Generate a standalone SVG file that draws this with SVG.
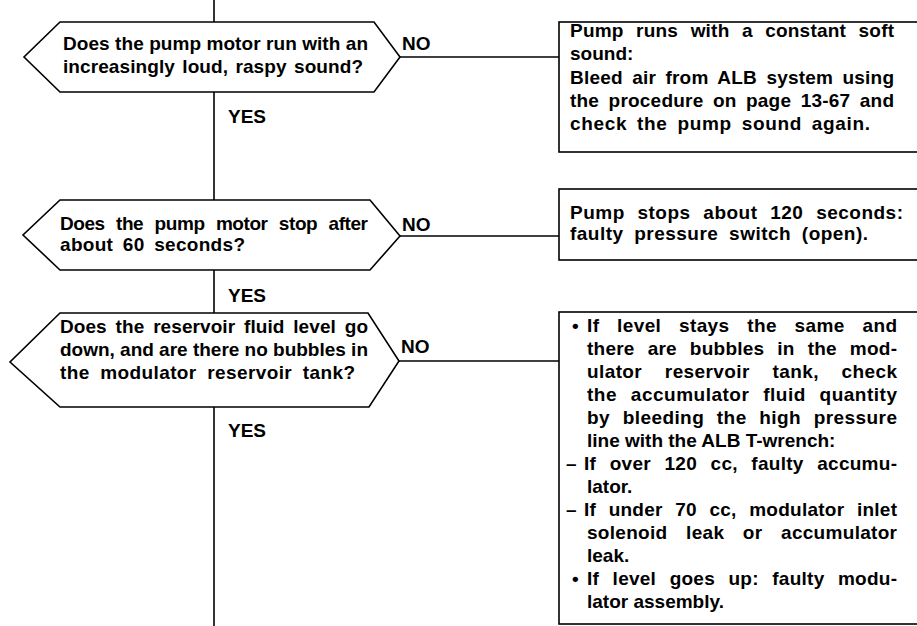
<svg xmlns="http://www.w3.org/2000/svg" width="917" height="626" viewBox="0 0 917 626">
<style>
.s{fill:none;stroke:#000;stroke-width:1.6}
.t{font-family:"Liberation Sans",Arial,sans-serif;font-weight:bold;font-size:19px;fill:#000}
</style>
<rect width="917" height="626" fill="#fff"/>
<g id="connectors" class="s">
<line x1="214" y1="0" x2="214" y2="22"/>
<line x1="214" y1="92" x2="214" y2="200"/>
<line x1="214" y1="270" x2="214" y2="313"/>
<line x1="214" y1="407" x2="214" y2="626"/>
<line x1="400" y1="57" x2="559" y2="57"/>
<line x1="400" y1="236" x2="559" y2="236"/>
<line x1="399" y1="361" x2="559" y2="361"/>
</g>
<g id="labels" class="t">
<text x="402" y="50">NO</text>
<text x="228" y="123">YES</text>
<text x="402" y="231">NO</text>
<text x="228" y="302">YES</text>
<text x="401" y="353">NO</text>
<text x="228" y="437">YES</text>
</g>
<g id="q1">
<polygon class="s" points="60,22 374,22 400,57 374,92 60,92 24,57"/>
<text class="t" x="63" y="50" textLength="305" lengthAdjust="spacing">Does the pump motor run with an</text>
<text class="t" x="63" y="73" word-spacing="2" textLength="300" lengthAdjust="spacing">increasingly loud, raspy sound?</text>
</g>
<g id="r1">
<rect class="s" x="559" y="22" width="362" height="130"/>
<text class="t" x="570" y="37" word-spacing="7" textLength="324" lengthAdjust="spacing">Pump runs with a constant soft</text>
<text class="t" x="570" y="60">sound:</text>
<text class="t" x="570" y="84" word-spacing="4" textLength="324" lengthAdjust="spacing">Bleed air from ALB system using</text>
<text class="t" x="570" y="107" word-spacing="4" textLength="324" lengthAdjust="spacing">the procedure on page 13-67 and</text>
<text class="t" x="570" y="130" word-spacing="4" textLength="300" lengthAdjust="spacing">check the pump sound again.</text>
</g>
<g id="q2">
<polygon class="s" points="60,200 370,200 400,236 370,270 60,270 23,235"/>
<text class="t" x="60" y="230" word-spacing="6.5" textLength="308" lengthAdjust="spacing">Does the pump motor stop after</text>
<text class="t" x="60" y="251" word-spacing="4" textLength="185" lengthAdjust="spacing">about 60 seconds?</text>
</g>
<g id="r2">
<rect class="s" x="559" y="189" width="362" height="71"/>
<text class="t" x="570" y="219" word-spacing="7" textLength="333" lengthAdjust="spacing">Pump stops about 120 seconds:</text>
<text class="t" x="570" y="240" word-spacing="5" textLength="298" lengthAdjust="spacing">faulty pressure switch (open).</text>
</g>
<g id="q3">
<polygon class="s" points="60,313 368,313 399,361 369,407 60,407 10,362"/>
<text class="t" x="60" y="333" word-spacing="3.5" textLength="308" lengthAdjust="spacing">Does the reservoir fluid level go</text>
<text class="t" x="60" y="356" textLength="308" lengthAdjust="spacing">down, and are there no bubbles in</text>
<text class="t" x="60" y="379" word-spacing="5" textLength="295" lengthAdjust="spacing">the modulator reservoir tank?</text>
</g>
<g id="r3">
<rect class="s" x="559" y="312" width="362" height="312"/>
<text class="t" x="572" y="332">•</text>
<text class="t" x="587" y="332" word-spacing="12" textLength="310" lengthAdjust="spacing">If level stays the same and</text>
<text class="t" x="587" y="355" word-spacing="7.5" textLength="310" lengthAdjust="spacing">there are bubbles in the mod-</text>
<text class="t" x="587" y="378" word-spacing="17" textLength="310" lengthAdjust="spacing">ulator reservoir tank, check</text>
<text class="t" x="587" y="401" word-spacing="8" textLength="310" lengthAdjust="spacing">the accumulator fluid quantity</text>
<text class="t" x="587" y="424" word-spacing="7" textLength="310" lengthAdjust="spacing">by bleeding the high pressure</text>
<text class="t" x="587" y="447">line with the ALB T-wrench:</text>
<text class="t" x="566" y="470">–</text>
<text class="t" x="584" y="470" word-spacing="8" textLength="313" lengthAdjust="spacing">If over 120 cc, faulty accumu-</text>
<text class="t" x="587" y="493">lator.</text>
<text class="t" x="566" y="516">–</text>
<text class="t" x="584" y="516" word-spacing="7" textLength="313" lengthAdjust="spacing">If under 70 cc, modulator inlet</text>
<text class="t" x="587" y="539" word-spacing="13" textLength="310" lengthAdjust="spacing">solenoid leak or accumulator</text>
<text class="t" x="587" y="562">leak.</text>
<text class="t" x="572" y="585">•</text>
<text class="t" x="587" y="585" word-spacing="8" textLength="310" lengthAdjust="spacing">If level goes up: faulty modu-</text>
<text class="t" x="587" y="608">lator assembly.</text>
</g>
</svg>
